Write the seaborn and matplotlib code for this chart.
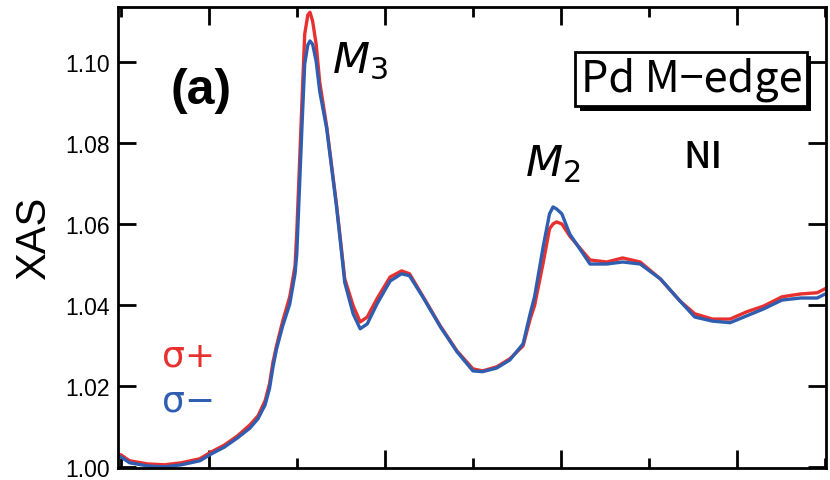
import matplotlib
matplotlib.use("Agg")
import matplotlib.pyplot as plt
import matplotlib.patheffects as pe
import seaborn as sns

# photon energy (eV) and XAS
energy = [510.0, 511.0, 513.1, 515.0, 516.9, 519.0, 520.3, 521.8, 523.3, 524.7,
          525.6, 526.4, 526.9, 527.3, 527.7, 528.4, 529.2, 529.8, 530.0, 530.3,
          530.6, 530.9, 531.25, 531.5, 531.8, 532.2, 532.6, 533.4, 534.5, 534.9,
          535.45, 536.4, 537.2, 538.0, 539.1, 540.6, 541.9, 542.8, 544.3, 546.3,
          548.2, 550.0, 551.1, 552.7, 554.2, 555.7, 556.5, 557.0, 558.0, 558.7,
          559.1, 559.5, 560.1, 561.0, 563.3, 565.2, 567.0, 569.0, 571.3, 573.5,
          575.2, 577.2, 579.2, 581.1, 583.0, 585.1, 587.2, 589.1, 590.0]

sigma_plus = [1.0030, 1.0015, 1.0007, 1.0005, 1.0010, 1.0020, 1.0037, 1.0054, 1.0077, 1.0104,
              1.0126, 1.0163, 1.0205, 1.0259, 1.0299, 1.0360, 1.0420, 1.0496, 1.0580, 1.0743,
              1.0909, 1.1069, 1.1116, 1.1123, 1.1101, 1.1044, 1.0951, 1.0840, 1.0650, 1.0572,
              1.0464, 1.0398, 1.0358, 1.0370, 1.0415, 1.0469, 1.0484, 1.0477, 1.0422, 1.0348,
              1.0286, 1.0242, 1.0237, 1.0247, 1.0267, 1.0299, 1.0365, 1.0398, 1.0506, 1.0588,
              1.0600, 1.0605, 1.0600, 1.0570, 1.0511, 1.0506, 1.0516, 1.0506, 1.0464, 1.0410,
              1.0378, 1.0365, 1.0365, 1.0383, 1.0397, 1.0420, 1.0427, 1.0430, 1.0440]

sigma_minus = [1.0025, 1.0010, 1.0002, 1.0000, 1.0005, 1.0015, 1.0032, 1.0049, 1.0072, 1.0096,
               1.0119, 1.0153, 1.0193, 1.0247, 1.0291, 1.0348, 1.0402, 1.0477, 1.0526, 1.0686,
               1.0847, 1.0995, 1.1042, 1.1052, 1.1044, 1.1002, 1.0928, 1.0835, 1.0645, 1.0566,
               1.0455, 1.0378, 1.0341, 1.0353, 1.0402, 1.0459, 1.0477, 1.0472, 1.0420, 1.0346,
               1.0284, 1.0237, 1.0235, 1.0244, 1.0264, 1.0304, 1.0378, 1.0420, 1.0546, 1.0625,
               1.0642, 1.0637, 1.0625, 1.0575, 1.0501, 1.0501, 1.0506, 1.0501, 1.0464, 1.0410,
               1.0370, 1.0360, 1.0356, 1.0373, 1.0390, 1.0412, 1.0417, 1.0417, 1.0427]

y_ticks = [1.00, 1.02, 1.04, 1.06, 1.08, 1.10]

RED = "#e8302e"
BLUE = "#2f5db0"

sns.set_style("ticks")
plt.rcParams["font.family"] = ["Liberation Sans", "DejaVu Sans"]
plt.rcParams["text.color"] = "black"
plt.rcParams["axes.labelcolor"] = "black"
plt.rcParams["xtick.color"] = "black"
plt.rcParams["ytick.color"] = "black"
plt.rcParams["mathtext.fontset"] = "custom"
plt.rcParams["mathtext.it"] = "DejaVu Sans:italic:light"
plt.rcParams["mathtext.rm"] = "DejaVu Sans"

fig = plt.figure(figsize=(8.3, 4.81), dpi=100)
ax = fig.add_axes([0.1422, 0.0249, 0.853, 0.9585])

sns.lineplot(x=energy, y=sigma_plus, color=RED, lw=2.4, sort=False, ax=ax)
sns.lineplot(x=energy, y=sigma_minus, color=BLUE, lw=2.4, sort=False, ax=ax)

ax.set_xlim(509.7, 590.1)
ax.set_ylim(0.9997, 1.1136)

# axes frame and ticks
for s in ax.spines.values():
    s.set_linewidth(2.0)
    s.set_color("black")
ax.set_xticks([520, 540, 560, 580])
ax.set_xticks([510, 530, 550, 570, 590], minor=True)
ax.set_yticks(y_ticks)
ax.set_yticklabels([f"{v:.2f}" for v in y_ticks])
ax.tick_params(axis="both", which="major", direction="in", top=True, right=True,
               length=13, width=2, labelsize=16.5, pad=6, labelcolor="black")
ax.tick_params(axis="x", which="minor", direction="in", top=True, bottom=True,
               length=7, width=2)
ax.tick_params(axis="x", which="both", labelbottom=False)
ax.set_xlabel("")
ax.set_ylabel("XAS", fontsize=30, labelpad=8, color="black")

# annotations
ax.text(519.1, 1.0930, "(a)", fontsize=36, fontweight="bold", ha="center", va="center")
ax.text(534.0, 1.1005, r"$\mathit{M}_3$", fontsize=31, ha="left", va="center")
ax.text(555.9, 1.0750, r"$\mathit{M}_2$", fontsize=31, ha="left", va="center")

box = ax.text(574.8, 1.0958, "Pd M\u2212edge", fontsize=31, ha="center", va="center",
              family=["Noto Sans CJK JP", "DejaVu Sans"],
              bbox=dict(boxstyle="square,pad=0.12", fc="white", ec="black", lw=2))
box.get_bbox_patch().set_path_effects(
    [pe.SimplePatchShadow(offset=(3, -3), shadow_rgbFace="black", alpha=1.0), pe.Normal()])

ax.text(576.1, 1.0768, "NI", fontsize=27, ha="center", va="center",
        family=["Noto Sans CJK JP", "DejaVu Sans"], fontweight="medium")

ax.text(517.7, 1.0274, "\u03c3+", fontsize=26, color=RED, ha="center", va="center",
        family=["DejaVu Sans"])
ax.text(517.7, 1.0163, "\u03c3\u2212", fontsize=26, color=BLUE, ha="center", va="center",
        family=["DejaVu Sans"])

fig.savefig("out.png", dpi=100)
